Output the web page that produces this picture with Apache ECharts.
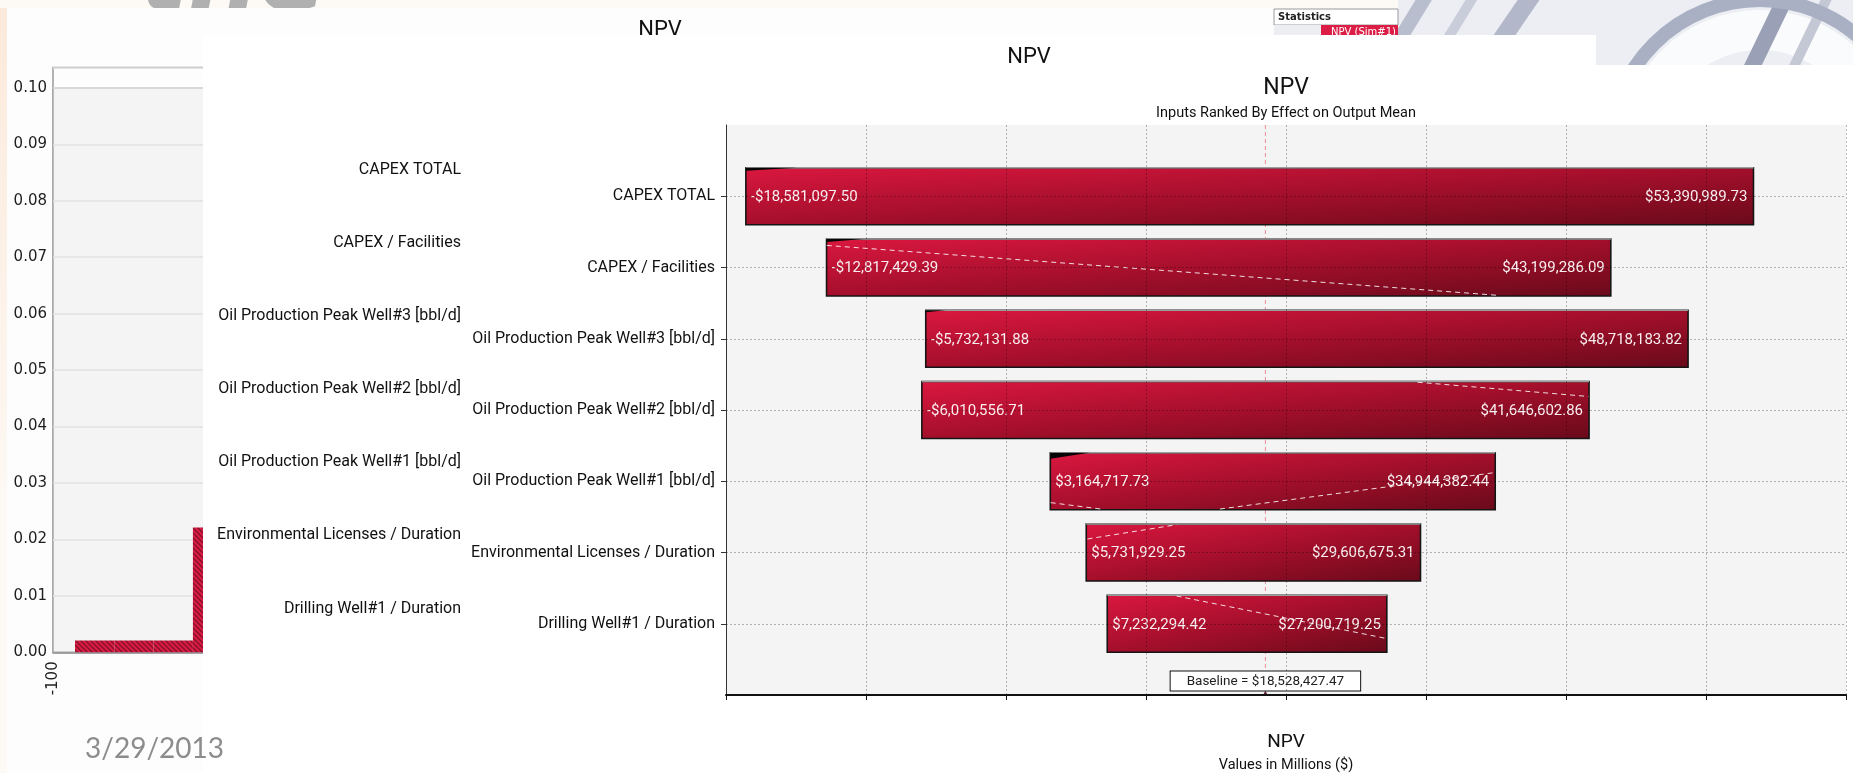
<!DOCTYPE html>
<html>
<head>
<meta charset="utf-8">
<script src="https://cdn.jsdelivr.net/npm/echarts@6/dist/echarts.min.js"></script>
<style>
  html, body { margin: 0; padding: 0; background: #fdfaf7; }
  #chart { width: 1853px; height: 773px; }
</style>
</head>
<body>
<div id="chart"></div>
<script>
// ---- Tornado data: NPV swing per input (US$) ----
const categories = [
  'CAPEX TOTAL',
  'CAPEX / Facilities',
  'Oil Production Peak Well#3 [bbl/d]',
  'Oil Production Peak Well#2 [bbl/d]',
  'Oil Production Peak Well#1 [bbl/d]',
  'Environmental Licenses / Duration',
  'Drilling Well#1 / Duration'
];
const lowValues  = [-18581097.50, -12817429.39, -5732131.88, -6010556.71, 3164717.73, 5731929.25, 7232294.42];
const highValues = [53390989.73, 43199286.09, 48718183.82, 41646602.86, 34944382.44, 29606675.31, 27200719.25];
const baselineValue = 18528427.47;

// NPV axis, in millions
const npvAxisMin = -20;
const npvAxisMax = 60;
const npvAxisStep = 10;

// Overlay traces crossing the bars (millions, row position)
const traceSegments = [
  [[-12.8, 1.69], [35.1, 2.39]],
  [[29.4, 3.61], [41.6, 3.81]],
  [[3.19, 5.30], [6.76, 5.39]],
  [[15.28, 5.39], [34.86, 4.88]],
  [[5.82, 5.81], [12.18, 5.61]],
  [[12.18, 6.61], [27.25, 7.21]]
];

// ---- Histogram of NPV (probability density) ----
const histBinStart = [-94.4, -84.4, -74.4, -64.4];
const histBinEnd   = [-84.4, -74.4, -64.4, -54.4];
const histDensity  = [0.0021, 0.0021, 0.0021, 0.0221];
const densityTickLabels = ['0.00','0.01','0.02','0.03','0.04','0.05','0.06','0.07','0.08','0.09','0.10'];
const histXTickLabels = ['-100'];

// ---- helpers ----
function fmtMoney(v) {
  const s = Math.abs(v).toLocaleString('en-US', { minimumFractionDigits: 2, maximumFractionDigits: 2 });
  return (v < 0 ? '-' : '') + '$' + s;
}

function hatchPattern() {
  const c = document.createElement('canvas');
  c.width = 5; c.height = 5;
  const g = c.getContext('2d');
  g.fillStyle = '#d81c44';
  g.fillRect(0, 0, 5, 5);
  g.strokeStyle = '#86102a';
  g.lineWidth = 1.3;
  g.beginPath();
  g.moveTo(-1, -1); g.lineTo(6, 6);
  g.moveTo(-1, 4); g.lineTo(1, 6);
  g.moveTo(4, -1); g.lineTo(6, 1);
  g.stroke();
  return { image: c, repeat: 'repeat' };
}
const hatch = hatchPattern();

// dark corner shading on some bars: row -> [width, depth] in px
const CORNER_SHADE = { 1: [51, 3], 2: [37, 3], 3: [20, 2], 5: [39, 6] };

const tornadoData = categories.map((c, i) => [i + 1, lowValues[i] / 1e6, highValues[i] / 1e6, lowValues[i], highValues[i]]);
const histData = histBinStart.map((s, i) => [s, histBinEnd[i], histDensity[i]]);
const baselineM = baselineValue / 1e6;

const chart = echarts.init(document.getElementById('chart'), null, { renderer: 'canvas' });

const labelFont = 'Roboto, "Liberation Sans", sans-serif';

const option = {
  animation: false,
  backgroundColor: 'transparent',
  grid: [
    // histogram
    { left: 53, top: 67.6, right: 228, bottom: 120.7, show: true, borderColor: '#9a9a9a', borderWidth: 1.5, backgroundColor: 'transparent', z: 1 },
    // tornado
    { left: 726, top: 125, right: 7, bottom: 78, z: 60 },
    // category captions of the second panel
    { left: 471, top: 97, width: 100, height: 584.6, z: 52 }
  ],
  xAxis: [
    {
      gridIndex: 0, type: 'value', min: -100, max: 300, interval: 100, z: 1.5,
      axisLine: { lineStyle: { color: '#8a8a8a', width: 1.5 } },
      axisTick: { show: false },
      axisLabel: { rotate: 90, margin: 9, fontSize: 15, color: '#222', fontFamily: '"DejaVu Sans", sans-serif',
        formatter: v => (v === -100 ? histXTickLabels[0] : String(v)) },
      splitLine: { show: false }
    },
    {
      gridIndex: 1, type: 'value', min: npvAxisMin, max: npvAxisMax, interval: npvAxisStep, z: 80,
      axisLine: { onZero: false, lineStyle: { color: '#111', width: 2 } },
      axisTick: { show: true, length: 5, lineStyle: { color: '#111', width: 1 } },
      axisLabel: { show: false },
      splitLine: { show: true, lineStyle: { color: 'rgba(0,0,0,0.28)', type: [2, 2], width: 1 } }
    },
    { gridIndex: 2, type: 'value', show: false, min: 0, max: 1 }
  ],
  yAxis: [
    {
      gridIndex: 0, type: 'value', min: 0, max: 0.1036, interval: 0.01, z: 1.5,
      axisLine: { show: true, lineStyle: { color: '#8a8a8a', width: 1.5 } },
      axisTick: { show: true, length: 4, lineStyle: { color: '#8a8a8a' } },
      axisLabel: { showMaxLabel: false, margin: 6, fontSize: 15, color: '#1e1e1e', fontFamily: '"DejaVu Sans", sans-serif',
        formatter: v => densityTickLabels[Math.round(v / 0.01)] || '' },
      splitLine: { show: true, lineStyle: { color: '#e2e2e2', width: 1.5 } }
    },
    {
      gridIndex: 1, type: 'value', inverse: true, min: 0, max: categories.length + 1, interval: 1, z: 80,
      axisLine: { show: true, onZero: false, lineStyle: { color: '#333', width: 1 } },
      axisTick: { show: true, length: 5, customValues: categories.map((c, i) => i + 1), lineStyle: { color: '#333' } },
      axisLabel: { margin: 11, fontSize: 16, color: '#111', fontFamily: labelFont,
        customValues: categories.map((c, i) => i + 1),
        formatter: v => categories[v - 1] || '' },
      splitLine: { show: true, lineStyle: { color: 'rgba(0,0,0,0.28)', type: [2, 2], width: 1 } }
    },
    {
      gridIndex: 2, type: 'value', inverse: true, min: 0, max: categories.length + 1, interval: 1, z: 52,
      axisLine: { show: false }, axisTick: { show: false }, splitLine: { show: false },
      axisLabel: { margin: 10, fontSize: 16, color: '#111', fontFamily: labelFont,
        customValues: categories.map((c, i) => i + 1),
        formatter: v => categories[v - 1] || '' }
    }
  ],
  series: [
    {
      // plot background of the histogram up to the last density tick
      type: 'custom', xAxisIndex: 0, yAxisIndex: 0, z: 1, silent: true,
      data: [[0.10]],
      renderItem(params, api) {
        const top = api.coord([-100, api.value(0)]);
        const bottom = api.coord([300, 0]);
        return {
          type: 'rect',
          shape: { x: top[0], y: top[1], width: bottom[0] - top[0], height: bottom[1] - top[1] },
          style: { fill: '#f4f4f4', stroke: '#a8a8a8', lineWidth: 1.5 }
        };
      }
    },
    {
      type: 'custom', name: 'NPV density', xAxisIndex: 0, yAxisIndex: 0, z: 2, silent: true,
      data: histData,
      renderItem(params, api) {
        const p0 = api.coord([api.value(0), api.value(2)]);
        const p1 = api.coord([api.value(1), 0]);
        return {
          type: 'rect',
          shape: { x: p0[0], y: p0[1], width: p1[0] - p0[0], height: p1[1] - p0[1] },
          style: { fill: hatch }
        };
      }
    },
    {
      // baseline marker
      type: 'line', xAxisIndex: 1, yAxisIndex: 1, z: 65, silent: true,
      showSymbol: true, symbol: 'none',
      lineStyle: { color: '#ec8c9a', width: 1, type: [4, 3] },
      data: [
        [baselineM, 0],
        {
          value: [baselineM, categories.length + 1],
          symbol: 'triangle', symbolSize: [5, 5], symbolOffset: [0, -2],
          itemStyle: { color: '#5b2630' },
          label: {
            show: true, position: 'top', distance: 4, offset: [0, 4],
            formatter: 'Baseline = ' + fmtMoney(baselineValue),
            backgroundColor: '#fff', borderColor: '#111', borderWidth: 1,
            padding: [3, 16, 2, 16], color: '#222', fontSize: 13.5, fontFamily: labelFont
          }
        }
      ]
    },
    {
      type: 'custom', name: 'NPV', xAxisIndex: 1, yAxisIndex: 1, z: 70, silent: true,
      data: tornadoData,
      renderItem(params, api) {
        const row = api.value(0);
        const p0 = api.coord([api.value(1), row]);
        const p1 = api.coord([api.value(2), row]);
        const h = api.size([0, 1])[1] * 0.8;
        const x0 = p0[0], x1 = p1[0], y0 = p0[1] - h / 2, w = x1 - x0;
        const s = 2 / (1 / (w * w) + 1 / (h * h));
        const grad = new echarts.graphic.LinearGradient(x0, y0, x0 + s / w, y0 + s / h, [
          { offset: 0, color: '#da173f' },
          { offset: 0.5, color: '#a40f2b' },
          { offset: 1, color: '#6a0a1b' }
        ], true);
        const children = [
          { type: 'rect', shape: { x: x0, y: y0, width: w, height: h },
            style: { fill: grad, stroke: '#151515', lineWidth: 1.6 } },
          { type: 'line', shape: { x1: x0, y1: y0, x2: x1, y2: y0 },
            style: { stroke: '#9c9c9c', lineWidth: 1.6 } }
        ];
        const shade = CORNER_SHADE[row];
        if (shade) {
          children.push({ type: 'polygon', shape: { points: [[x0, y0], [x0 + shade[0], y0], [x0, y0 + shade[1]]] },
            style: { fill: '#050505' } });
        }
        const font = '15px ' + labelFont;
        children.push({ type: 'text', x: x0 + 5, y: p0[1] + 1,
          style: { text: fmtMoney(api.value(3)), fill: '#fbeef0', font, align: 'left', textAlign: 'left', verticalAlign: 'middle', textVerticalAlign: 'middle' } });
        children.push({ type: 'text', x: x1 - 6, y: p0[1] + 1,
          style: { text: fmtMoney(api.value(4)), fill: '#fbeef0', font, align: 'right', textAlign: 'right', verticalAlign: 'middle', textVerticalAlign: 'middle' } });
        return { type: 'group', children };
      }
    },
    {
      type: 'lines', coordinateSystem: 'cartesian2d', xAxisIndex: 1, yAxisIndex: 1, z: 75, silent: true,
      lineStyle: { color: '#ffffff', width: 1, type: [5, 4], opacity: 0.85 },
      data: traceSegments.map(seg => ({ coords: seg }))
    }
  ],
  graphic: {
    elements: [
      // slide backdrop
      { type: 'rect', z: 0, shape: { x: 0, y: 0, width: 1853, height: 773 }, style: { fill: '#fdf9f5' } },
      { type: 'rect', z: 0.1, shape: { x: 0, y: 8, width: 7, height: 480 },
        style: { fill: new echarts.graphic.LinearGradient(0, 0, 0, 1, [{ offset: 0, color: '#fbeadb' }, { offset: 1, color: '#fdf8f3' }]) } },
      { type: 'text', z: 0.2, x: 140, y: 34,
        style: { text: 'the', fill: '#b0b0b0', font: 'italic bold 100px "DejaVu Sans", sans-serif', align: 'left', verticalAlign: 'bottom' } },
      { type: 'rect', z: 0.1, shape: { x: 1398, y: 0, width: 455, height: 65 }, style: { fill: '#eceef3' } },
      { type: 'rect', z: 0.2, x: 1440, y: -40, rotation: -0.55, shape: { x: 0, y: 0, width: 14, height: 160 }, style: { fill: '#b9bece' } },
      { type: 'rect', z: 0.2, x: 1490, y: -40, rotation: -0.55, shape: { x: 0, y: 0, width: 10, height: 160 }, style: { fill: '#c9cdd9' } },
      { type: 'rect', z: 0.2, x: 1545, y: -40, rotation: -0.6, shape: { x: 0, y: 0, width: 18, height: 160 }, style: { fill: '#b2b8c9' } },
      { type: 'circle', z: 0.2, shape: { cx: 1760, cy: 150, r: 120 }, style: { fill: 'none', stroke: '#fafbfc', lineWidth: 40 } },
      { type: 'circle', z: 0.25, shape: { cx: 1760, cy: 150, r: 150 }, style: { fill: 'none', stroke: '#aab0c3', lineWidth: 14 } },
      { type: 'rect', z: 0.2, x: 1790, y: -30, rotation: -0.45, shape: { x: 0, y: 0, width: 16, height: 140 }, style: { fill: '#9aa1b7' } },
      { type: 'rect', z: 0.2, x: 1835, y: -30, rotation: -0.45, shape: { x: 0, y: 0, width: 10, height: 140 }, style: { fill: '#c4c8d5' } },

      // first panel (histogram sheet)
      { type: 'rect', z: 0.8, shape: { x: 7, y: 8, width: 1267, height: 765 }, style: { fill: '#fdfdfd' } },
      { type: 'text', z: 0.9, x: 660, y: 30,
        style: { text: 'NPV', fill: '#111', font: '22px ' + labelFont, align: 'center', verticalAlign: 'middle' } },
      { type: 'rect', z: 0.9, shape: { x: 1274, y: 9, width: 124, height: 16 }, style: { fill: '#fff', stroke: '#9a9a9a', lineWidth: 1 } },
      { type: 'text', z: 0.95, x: 1278, y: 17,
        style: { text: 'Statistics', fill: '#222', font: 'bold 10px "DejaVu Sans", sans-serif', align: 'left', verticalAlign: 'middle' } },
      { type: 'rect', z: 0.9, shape: { x: 1274, y: 25, width: 47, height: 12 }, style: { fill: '#eceef2' } },
      { type: 'rect', z: 0.9, shape: { x: 1321, y: 25, width: 77, height: 12 }, style: { fill: '#dc1d45' } },
      { type: 'text', z: 0.95, x: 1396, y: 32,
        style: { text: 'NPV (Sim#1)', fill: '#fff', font: '10px "DejaVu Sans", sans-serif', align: 'right', verticalAlign: 'middle' } },

      // second panel
      { type: 'rect', z: 50, shape: { x: 203, y: 35, width: 1393, height: 738 }, style: { fill: '#ffffff' } },
      { type: 'text', z: 51, x: 1029, y: 57.5,
        style: { text: 'NPV', fill: '#111', font: '22px ' + labelFont, align: 'center', verticalAlign: 'middle' } },

      // tornado panel
      { type: 'rect', z: 55, shape: { x: 480, y: 65, width: 1373, height: 708 }, style: { fill: '#ffffff' } },
      { type: 'rect', z: 56, shape: { x: 726, y: 125, width: 1120, height: 570 }, style: { fill: '#f4f4f4' } },
      { type: 'text', z: 90, x: 1286, y: 88,
        style: { text: 'NPV', fill: '#111', font: '23px ' + labelFont, align: 'center', verticalAlign: 'middle' } },
      { type: 'text', z: 90, x: 1286, y: 113,
        style: { text: 'Inputs Ranked By Effect on Output Mean', fill: '#111', font: '14.5px ' + labelFont, align: 'center', verticalAlign: 'middle' } },
      { type: 'text', z: 90, x: 1286, y: 742,
        style: { text: 'NPV', fill: '#111', font: '19px ' + labelFont, align: 'center', verticalAlign: 'middle' } },
      { type: 'text', z: 90, x: 1286, y: 765,
        style: { text: 'Values in Millions ($)', fill: '#111', font: '14.5px ' + labelFont, align: 'center', verticalAlign: 'middle' } },

      // slide footer date
      { type: 'text', z: 95, x: 154.5, y: 749,
        style: { text: '3/29/2013', fill: '#8c8c8c', font: '28px Lato, "Open Sans", sans-serif', align: 'center', verticalAlign: 'middle' } }
    ]
  }
};

chart.setOption(option);
</script>
</body>
</html>
